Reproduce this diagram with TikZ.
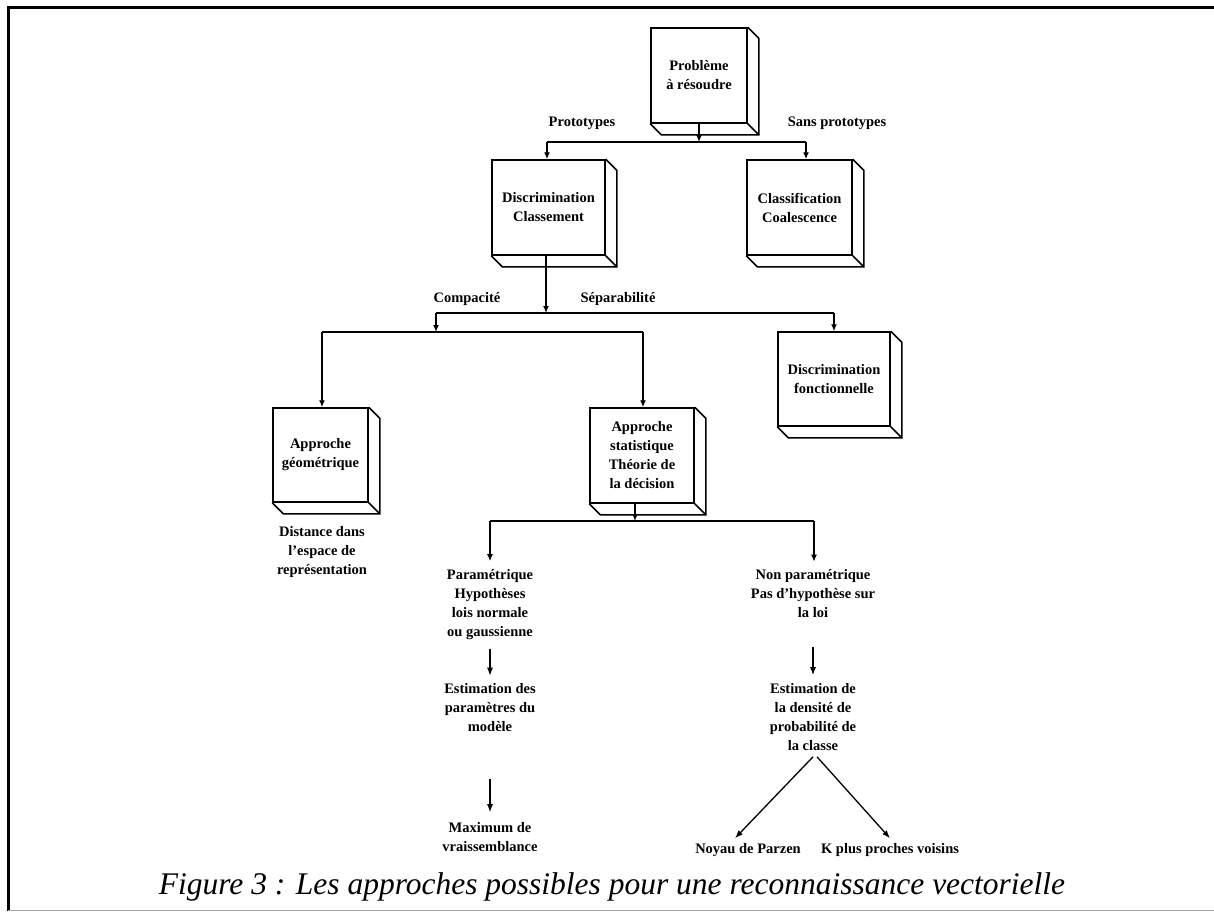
\documentclass[tikz,border=0pt]{standalone}
\usepackage{fontspec}
\setmainfont{Liberation Serif}
\usetikzlibrary{arrows.meta,calc}
\begin{document}
\begin{tikzpicture}[x=1pt,y=-1pt,
  box/.style={draw,line width=1.5pt,inner sep=0pt,align=center,
    font=\fontsize{14.5}{19}\selectfont\bfseries},
  txt/.style={inner sep=0pt,align=center,font=\fontsize{14.5}{19}\selectfont\bfseries},
  conn/.style={line width=1.4pt},
  arr/.style={line width=1.4pt,-{Latex[length=7pt,width=6pt]}},
  thinarr/.style={line width=1.3pt,-{Latex[length=8pt,width=6pt]}},
  depth/.style={line width=1.5pt,line join=miter},
]
\useasboundingbox (0,0) rectangle (1214,913);
% frame
\draw[line width=3pt] (8,911) -- (8,7) -- (1214,7);
\draw[black!35,line width=1pt] (8,910) -- (1214,910);

% boxes (front faces)
\node[box,minimum width=96pt,minimum height=95pt] (pb) at (699,75.5) {Problème\\à résoudre};
\node[box,minimum width=113pt,minimum height=95pt] (dc) at (548.5,207.5) {Discrimination\\Classement};
\node[box,minimum width=105pt,minimum height=95pt] (cc) at (799.5,207.5) {Classification\\Coalescence};
\node[box,minimum width=95pt,minimum height=94pt] (ag) at (320.5,455) {Approche\\géométrique};
\node[box,minimum width=104pt,minimum height=95pt] (as) at (642,455.5) {Approche\\statistique\\Théorie de\\la décision};
\node[box,minimum width=112pt,minimum height=94pt] (df) at (834,379) {Discrimination\\fonctionnelle};

% 3D depth
\foreach \n in {pb,dc,cc,ag,as,df}{
  \draw[depth] (\n.north east) -- ++(11,11) |- ($(\n.south west)+(11,11)$) -- (\n.south west);
  \draw[depth] (\n.south east) -- ++(11,11);
}

% level 1
\coordinate (j1) at (699,142);
\coordinate (j1l) at (547,142);
\coordinate (j1r) at (806,142);
\draw[arr] (j1 |- pb.south) -- (j1);
\draw[conn] (j1l) -- (j1r);
\draw[arr] (j1l) -- (j1l |- dc.north);
\draw[arr] (j1r) -- (j1r |- cc.north);
\node[txt] (lp) at (582,123) {Prototypes};
\node[txt] (lsp) at (837,123) {Sans prototypes};

% level 2
\coordinate (j2) at (546,313);
\coordinate (j2l) at (436,313);
\coordinate (j2r) at (834,313);
\draw[arr] (j2 |- dc.south) -- (j2);
\draw[conn] (j2l) -- (j2r);
\draw[arr] (j2r) -- (j2r |- df.north);
\coordinate (j3) at (436,332);
\coordinate (j3l) at (322,332);
\coordinate (j3r) at (643,332);
\draw[arr] (j2l) -- (j3);
\draw[conn] (j3l) -- (j3r);
\draw[arr] (j3l) -- (j3l |- ag.north);
\draw[arr] (j3r) -- (j3r |- as.north);
\node[txt] (lc) at (467,299) {Compacité};
\node[txt] (ls) at (618,299) {Séparabilité};

% text under geometric approach
\node[txt] (dist) at (322,552) {Distance dans\\l'espace de\\représentation};

% level 3
\coordinate (j4) at (635,521);
\coordinate (j4l) at (490,521);
\coordinate (j4r) at (814,521);
\draw[arr] (j4 |- as.south) -- (j4);
\draw[conn] (j4l) -- (j4r);

\node[txt] (param) at (490,604.5) {Paramétrique\\Hypothèses\\lois normale\\ou gaussienne};
\node[txt] (est1) at (490,708) {Estimation des\\paramètres du\\modèle};
\node[txt] (maxv) at (490,837) {Maximum de\\vraissemblance};
\node[txt] (npar) at (813,594) {Non paramétrique\\Pas d'hypothèse sur\\la loi};
\node[txt] (est2) at (813,717) {Estimation de\\la densité de\\probabilité de\\la classe};
\node[txt] (parzen) at (748,850) {Noyau de Parzen};
\node[txt] (knn) at (890,850) {K plus proches voisins};

\draw[arr] (j4l) -- ([yshift=8pt]j4l |- param.north);
\draw[arr] (j4r) -- ([yshift=8pt]j4r |- npar.north);
\draw[thinarr] ([yshift=-9pt]param.south) -- ([yshift=8pt]est1.north);
\draw[thinarr] ([yshift=-47pt]est1.south) -- ([yshift=10pt]maxv.north);
\draw[thinarr] ([yshift=-29pt]npar.south) -- ([yshift=8pt]est2.north);
\draw[thinarr] ([yshift=-6pt]est2.south) -- ([xshift=-13pt,yshift=5pt]parzen.north);
\draw[thinarr] ([xshift=4pt,yshift=-6pt]est2.south) -- ([yshift=5pt]knn.north);

% caption
\node[inner sep=0pt,anchor=base,font=\fontsize{31.5}{31.5}\selectfont\itshape] (cap) at (612,894)
  {Figure 3 : Les approches possibles pour une reconnaissance vectorielle};
\end{tikzpicture}
\end{document}
